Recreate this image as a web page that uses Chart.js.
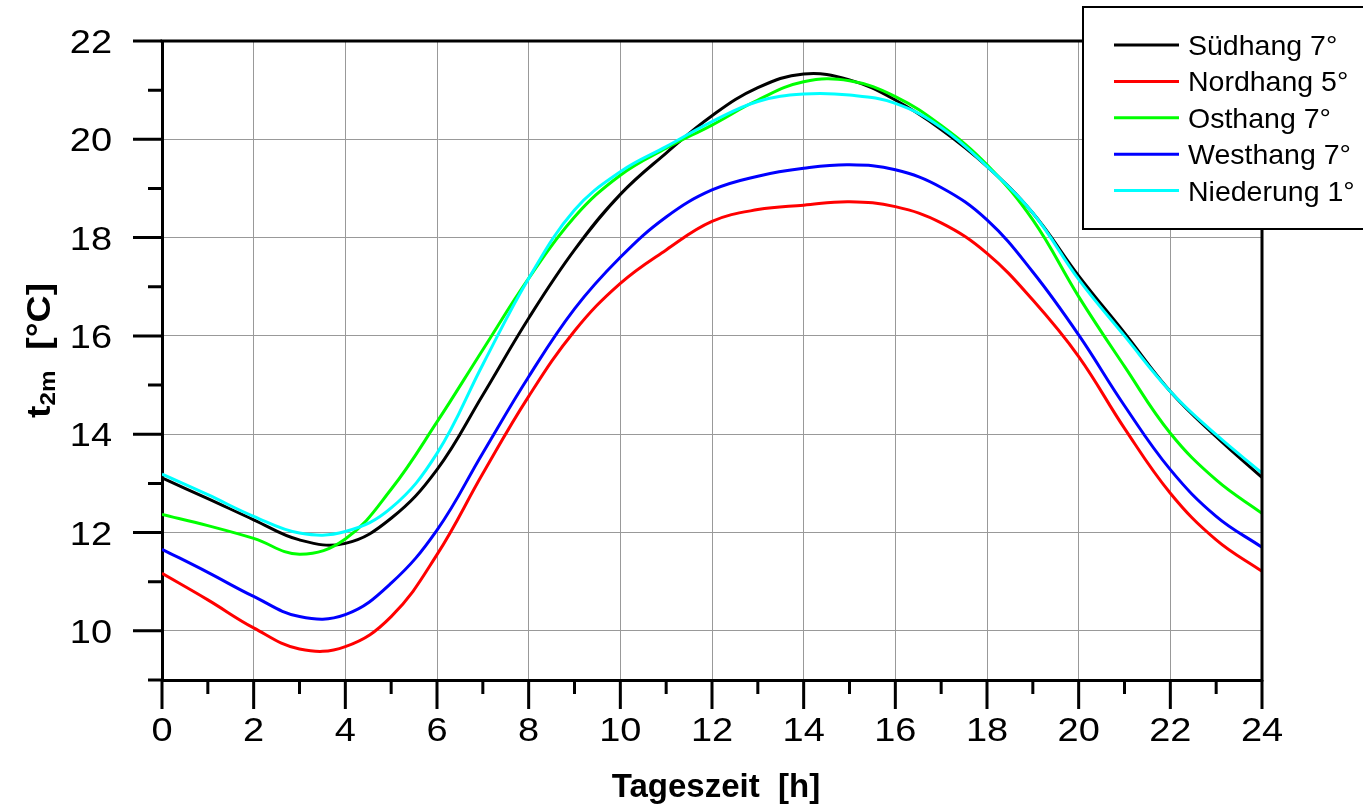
<!DOCTYPE html>
<html lang="de">
<head>
<meta charset="utf-8">
<title>Tagesgang t2m</title>
<script src="https://cdn.jsdelivr.net/npm/chart.js@4.4.0/dist/chart.umd.min.js"></script>
<style>
  html, body { margin: 0; padding: 0; background: #fff; }
  canvas { display: block; }
</style>
</head>
<body>
<canvas id="tempChart" width="1363" height="807"></canvas>
<script>
// Tageszeit in Stunden
const hours = [0, 1, 2, 3, 4, 5, 6, 7, 8, 9, 10, 11, 12, 13, 14, 15, 16, 17, 18, 19, 20, 21, 22, 23, 24];

// Lufttemperatur in 2 m Höhe [°C]
const suedhang = [13.11, 12.69, 12.26, 11.85, 11.78, 12.29, 13.28, 14.8, 16.36, 17.75, 18.88, 19.72, 20.48,
                  21.05, 21.33, 21.21, 20.8, 20.2, 19.45, 18.5, 17.22, 16.06, 14.87, 13.95, 13.12];
const nordhang = [11.17, 10.63, 10.06, 9.63, 9.68, 10.29, 11.55, 13.2, 14.77, 16.1, 17.07, 17.75, 18.33,
                  18.57, 18.66, 18.73, 18.63, 18.3, 17.68, 16.73, 15.58, 14.12, 12.8, 11.85, 11.21];
const osthang = [12.37, 12.14, 11.88, 11.56, 11.87, 12.88, 14.25, 15.72, 17.17, 18.42, 19.27, 19.82, 20.29,
                 20.8, 21.17, 21.19, 20.87, 20.28, 19.48, 18.36, 16.8, 15.38, 14.02, 13.07, 12.39];
const westhang = [11.66, 11.19, 10.7, 10.29, 10.33, 10.97, 12.05, 13.62, 15.17, 16.55, 17.6, 18.42, 18.97,
                  19.25, 19.41, 19.48, 19.38, 19.02, 18.36, 17.3, 16.02, 14.58, 13.28, 12.33, 11.7];
const niederung = [13.19, 12.77, 12.33, 11.99, 12.02, 12.5, 13.61, 15.42, 17.17, 18.56, 19.34, 19.85, 20.36,
                   20.77, 20.92, 20.9, 20.73, 20.24, 19.45, 18.5, 17.15, 16.0, 14.87, 13.99, 13.21];

const seriesNames = ['Südhang 7°', 'Nordhang 5°', 'Osthang 7°', 'Westhang 7°', 'Niederung 1°'];
const seriesColors = ['#000000', '#ff0000', '#00ff00', '#0000ff', '#00ffff'];
const seriesValues = [suedhang, nordhang, osthang, westhang, niederung];

const xLabels = ['0', '2', '4', '6', '8', '10', '12', '14', '16', '18', '20', '22', '24'];
const yLabels = ['10', '12', '14', '16', '18', '20', '22'];

const FONT = '"Liberation Sans", Arial, Helvetica, sans-serif';

function toPoints(values) {
    return hours.map(function (h, i) { return { x: h, y: values[i] }; });
}

// draws text stretched horizontally along its own reading direction
function stretchedText(ctx, text, x, y, sx) {
    ctx.save();
    ctx.translate(x, y);
    ctx.scale(sx, 1);
    ctx.fillText(text, 0, 0);
    ctx.restore();
}

const axisDecor = {
    id: 'axisDecor',
    afterDraw: function (chart) {
        const ctx = chart.ctx;
        const area = chart.chartArea;
        const xs = chart.scales.x;
        const ys = chart.scales.y;

        ctx.save();
        ctx.strokeStyle = '#000';
        ctx.fillStyle = '#000';
        ctx.lineWidth = 3;

        // upper and right frame
        ctx.lineCap = 'square';
        ctx.beginPath();
        ctx.moveTo(area.left, area.top);
        ctx.lineTo(area.right, area.top);
        ctx.lineTo(area.right, area.bottom);
        ctx.stroke();

        // tick marks, long ones at labelled values
        ctx.lineCap = 'butt';
        ctx.beginPath();
        for (let v = 9; v <= 22; v++) {
            const py = ys.getPixelForValue(v);
            const len = v % 2 === 0 ? 29 : 14;
            ctx.moveTo(area.left - len, py);
            ctx.lineTo(area.left, py);
        }
        for (let h = 0; h <= 24; h++) {
            const px = xs.getPixelForValue(h);
            const len = h % 2 === 0 ? 29 : 14;
            ctx.moveTo(px, area.bottom);
            ctx.lineTo(px, area.bottom + len);
        }
        ctx.stroke();

        // tick labels
        ctx.font = '33px ' + FONT;
        ctx.textBaseline = 'alphabetic';
        ctx.textAlign = 'right';
        yLabels.forEach(function (lbl) {
            stretchedText(ctx, lbl, area.left - 50, ys.getPixelForValue(Number(lbl)) + 12, 1.15);
        });
        ctx.textAlign = 'center';
        xLabels.forEach(function (lbl) {
            stretchedText(ctx, lbl, xs.getPixelForValue(Number(lbl)), area.bottom + 61, 1.15);
        });

        // x axis title
        ctx.font = 'bold 33px ' + FONT;
        ctx.fillText('Tageszeit  [h]', (area.left + area.right) / 2 + 4, area.bottom + 117);

        // y axis title with subscript
        ctx.save();
        ctx.translate(50, 418);
        ctx.rotate(-Math.PI / 2);
        ctx.scale(1.1, 1);
        ctx.textAlign = 'left';
        ctx.font = 'bold 34px ' + FONT;
        ctx.fillText('t', 0, 0);
        let pos = ctx.measureText('t').width;
        ctx.font = 'bold 22px ' + FONT;
        ctx.fillText('2m', pos, 5);
        pos += ctx.measureText('2m').width;
        ctx.font = 'bold 34px ' + FONT;
        ctx.fillText('  [°C]', pos, 0);
        ctx.restore();

        // legend box
        const bx = 1083, by = 7, bw = 300, bh = 222;
        ctx.fillStyle = '#fff';
        ctx.fillRect(bx, by, bw, bh);
        ctx.lineWidth = 2;
        ctx.strokeStyle = '#000';
        ctx.strokeRect(bx, by, bw, bh);
        ctx.font = '28.5px ' + FONT;
        ctx.textAlign = 'left';
        chart.data.datasets.forEach(function (ds, i) {
            const rowY = 45 + i * 36.4;
            ctx.strokeStyle = ds.borderColor;
            ctx.lineWidth = 3;
            ctx.beginPath();
            ctx.moveTo(1114, rowY);
            ctx.lineTo(1179, rowY);
            ctx.stroke();
            ctx.fillStyle = '#000';
            ctx.fillText(ds.label, 1188, rowY + 10);
        });

        ctx.restore();
    }
};

const datasets = seriesNames.map(function (name, i) {
    return {
        label: name,
        data: toPoints(seriesValues[i]),
        borderColor: seriesColors[i],
        backgroundColor: seriesColors[i],
        borderWidth: 3,
        pointRadius: 0,
        tension: 0.4,
        fill: false,
        order: seriesNames.length - i
    };
});

const chart = new Chart(document.getElementById('tempChart').getContext('2d'), {
    type: 'line',
    data: { datasets: datasets },
    options: {
        responsive: false,
        animation: false,
        devicePixelRatio: 1,
        layout: {
            padding: { top: 41, right: 101, left: 0, bottom: 0 }
        },
        plugins: {
            legend: { display: false },
            tooltip: { enabled: false }
        },
        scales: {
            x: {
                type: 'linear',
                min: 0,
                max: 24,
                afterFit: function (scale) { scale.height = 127; },
                ticks: { stepSize: 2, display: false },
                grid: { color: '#999', lineWidth: 1, drawTicks: false },
                border: { display: true, color: '#000', width: 3 }
            },
            y: {
                min: 9,
                max: 22,
                afterFit: function (scale) { scale.width = 162; },
                ticks: { stepSize: 1, display: false },
                grid: {
                    color: function (c) {
                        return c.tick && c.tick.value % 2 === 0 ? '#999' : 'rgba(0,0,0,0)';
                    },
                    lineWidth: 1,
                    drawTicks: false
                },
                border: { display: true, color: '#000', width: 3 }
            }
        }
    },
    plugins: [axisDecor]
});
</script>
</body>
</html>
